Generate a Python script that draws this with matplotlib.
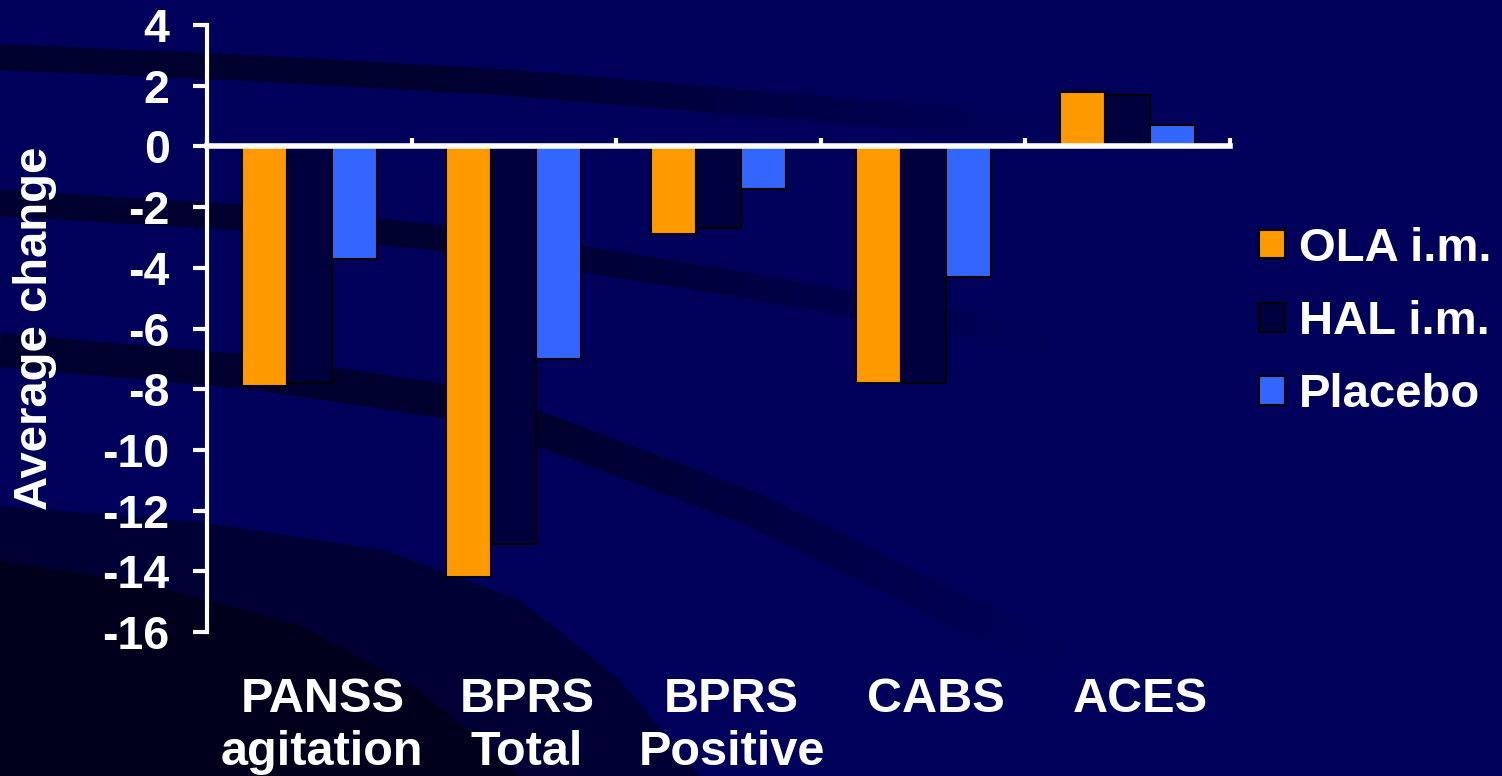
import matplotlib
matplotlib.use("Agg")
import matplotlib.pyplot as plt
import matplotlib.transforms as mtransforms
from matplotlib.collections import LineCollection
import numpy as np

plt.rcParams['font.family'] = ['Liberation Sans', 'DejaVu Sans']
plt.rcParams['font.weight'] = 'bold'
plt.rcParams['axes.unicode_minus'] = False

# Mean change from baseline per rating scale
scales = ['PANSS\nagitation', 'BPRS\nTotal', 'BPRS\nPositive', 'CABS', 'ACES']
ola_im = [-7.9, -14.2, -2.9, -7.8, 1.8]
hal_im = [-7.8, -13.1, -2.7, -7.8, 1.7]
placebo = [-3.7, -7.0, -1.4, -4.3, 0.7]

series = [('OLA i.m.', ola_im, '#FF9900'),
          ('HAL i.m.', hal_im, '#00003F'),
          ('Placebo', placebo, '#3366FF')]

W, H = 1502, 776
fig = plt.figure(figsize=(W / 100, H / 100), dpi=100)
fig.patch.set_facecolor('#00005A')

# Slide background: navy with darker curved swooshes that fade out to the right
bg = fig.add_axes([0, 0, 1, 1], zorder=-10)
bg.set_xlim(0, W)
bg.set_ylim(H, 0)
bg.axis('off')


def swoosh(xs, ys, width, fade_from, fade_to, color='#000028', peak=0.85):
    xx = np.linspace(xs[0], xs[-1], 120)
    yy = np.interp(xx, xs, ys)
    pts = np.column_stack([xx, yy]).reshape(-1, 1, 2)
    segs = np.concatenate([pts[:-1], pts[1:]], axis=1)
    mid = (xx[:-1] + xx[1:]) / 2
    alpha = peak * np.clip((fade_to - mid) / (fade_to - fade_from), 0, 1)
    rgba = np.zeros((len(mid), 4))
    rgba[:, :3] = matplotlib.colors.to_rgb(color)
    rgba[:, 3] = alpha
    bg.add_collection(LineCollection(segs, colors=rgba, linewidths=width * 0.72,
                                     capstyle='butt'))


# darker lower-left corner
bg.fill([0, 200, 383, 520, 620, 700, 0], [506, 522, 550, 600, 680, 776, 776],
        color='#000035', lw=0)
bg.fill([0, 150, 300, 420, 520, 0], [560, 585, 625, 690, 776, 776],
        color='#00001C', lw=0)

swoosh([0, 250, 500, 750, 1050], [57, 68, 82, 103, 128], 26, 450, 1050)
swoosh([0, 250, 478, 750, 1050], [203, 218, 242, 286, 340], 26, 500, 1050)
swoosh([0, 250, 478, 750, 1060], [350, 372, 406, 508, 660], 34, 550, 1060)

ax = fig.add_axes([207 / W, 1 - 632 / H, (1230 - 207) / W, (632 - 25) / H])
ax.set_facecolor('none')

x = np.arange(len(scales))
width = 0.22
for i, (name, vals, color) in enumerate(series):
    ax.bar(x + (i - 1) * width, vals, width, color=color, edgecolor='black',
           linewidth=1.5, label=name, zorder=2)

ax.set_xlim(-0.5, len(scales) - 0.5)
ax.set_ylim(-16, 4)
ax.set_yticks(np.arange(-16, 5, 2))

for side in ['top', 'right']:
    ax.spines[side].set_visible(False)
ax.spines['left'].set_color('white')
ax.spines['left'].set_linewidth(3)
ax.spines['bottom'].set_position(('data', 0))
ax.spines['bottom'].set_color('white')
ax.spines['bottom'].set_linewidth(4)
ax.spines['bottom'].set_zorder(3)

ax.tick_params(axis='y', colors='white', labelsize=33.5, length=10, width=3,
               direction='out', pad=17)
ax.set_xticks(np.arange(len(scales) + 1) - 0.5)
ax.set_xticklabels([])
ax.tick_params(axis='x', colors='white', length=6, width=3, direction='in')
for lbl in ax.get_yticklabels():
    lbl.set_fontweight('bold')

# Category names sit well below the plot area, nudged a little to the right
trans = mtransforms.blended_transform_factory(ax.transData, fig.transFigure)
trans = trans + mtransforms.ScaledTranslation(13 / 100, 0, fig.dpi_scale_trans)
for xi, name in zip(x, scales):
    ax.text(xi, 1 - 677 / H, name, transform=trans, ha='center', va='top',
            color='white', fontsize=35, fontweight='bold', linespacing=1.22)

fig.text(35 / W, 1 - 328 / H, 'Average change', rotation=90, ha='center', va='center',
         color='white', fontsize=34, fontweight='bold')

leg = fig.legend(loc='center left', bbox_to_anchor=(1259 / W, 1 - 322 / H),
                 frameon=False, fontsize=34, handlelength=0.55, handleheight=0.55,
                 handletextpad=0.3, labelspacing=0.62, borderaxespad=0, borderpad=0)
for t in leg.get_texts():
    t.set_color('white')
    t.set_fontweight('bold')

fig.savefig('out.png', dpi=100, facecolor=fig.get_facecolor())
